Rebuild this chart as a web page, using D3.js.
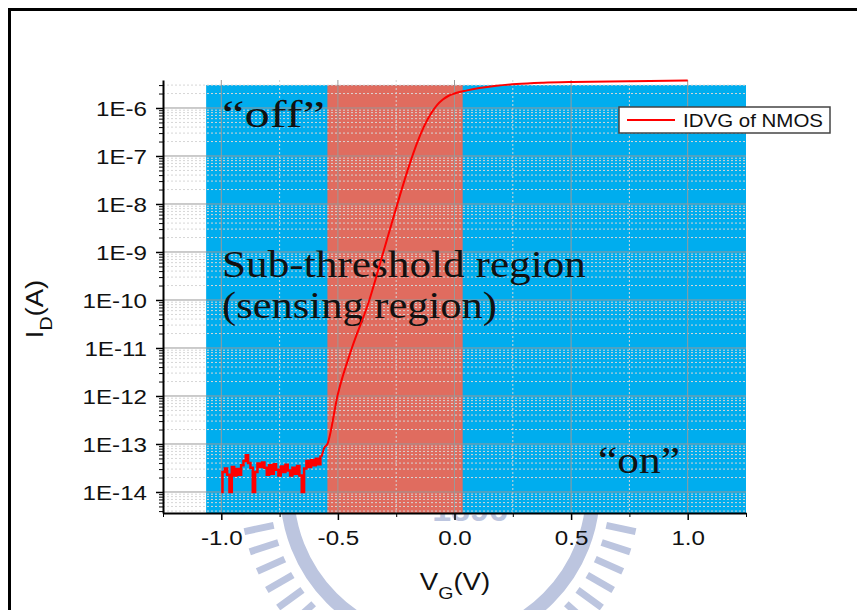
<!DOCTYPE html>
<html>
<head>
<script src="https://cdnjs.cloudflare.com/ajax/libs/d3/7.8.5/d3.min.js"></script>
<style>
  body { margin: 0; background: #fff; }
  .sans { font-family: "Liberation Sans", Arial, sans-serif; }
  .serif { font-family: "Liberation Serif", "Times New Roman", serif; }
</style>
</head>
<body>
<div id="vis"></div>
<script>
var w = 857, h = 610;

// noisy floor of the sweep (V, A)
var vgNoise = [-1.00,-0.99,-0.98,-0.97,-0.96,-0.95,-0.94,-0.93,-0.92,-0.91,-0.90,-0.89,-0.88,-0.87,-0.86,
  -0.85,-0.84,-0.83,-0.82,-0.81,-0.80,-0.79,-0.78,-0.77,-0.76,-0.75,-0.74,-0.73,-0.72,-0.71,
  -0.70,-0.69,-0.68,-0.67,-0.66,-0.65,-0.64,-0.63,-0.62,-0.61,-0.60,-0.59,-0.58,-0.57];
var idNoise = [1.0e-14,2.6e-14,3.1e-14,2.3e-14,1.0e-14,3.3e-14,2.2e-14,3.0e-14,2.3e-14,3.6e-14,4.4e-14,5.8e-14,4.0e-14,3.2e-14,1.0e-14,
  2.6e-14,3.9e-14,3.3e-14,4.1e-14,3.2e-14,2.3e-14,3.6e-14,2.4e-14,3.8e-14,2.9e-14,2.2e-14,3.4e-14,2.6e-14,3.7e-14,2.8e-14,
  2.2e-14,3.2e-14,2.4e-14,3.5e-14,2.2e-14,1.0e-14,3.1e-14,4.4e-14,3.3e-14,4.6e-14,3.6e-14,4.9e-14,3.8e-14,5.4e-14];
// sub-threshold rise and saturation
var vgRise = [-0.56,-0.545,-0.50,-0.44,-0.365,-0.305,-0.245,-0.20,-0.16,-0.13,-0.10,-0.075,-0.05,-0.025,0.0,0.05,0.107,0.18,0.266,0.38,0.506,0.76,1.0];
var idRise = [8.0e-14,1.0e-13,1.1e-12,1.0e-11,1.0e-10,1.0e-9,1.0e-8,5.2e-8,1.9e-7,4.2e-7,7.8e-7,1.15e-6,1.5e-6,1.8e-6,2.0e-6,2.3e-6,2.6e-6,2.9e-6,3.15e-6,3.35e-6,3.48e-6,3.62e-6,3.72e-6];

var xTicks = [-1.0, -0.5, 0.0, 0.5, 1.0];
var xTickLabels = ["-1.0", "-0.5", "0.0", "0.5", "1.0"];
var xMinor = [-1.25, -0.75, -0.25, 0.25, 0.75, 1.25];
var yTicks = [1e-14, 1e-13, 1e-12, 1e-11, 1e-10, 1e-9, 1e-8, 1e-7, 1e-6];
var yTickLabels = ["1E-14", "1E-13", "1E-12", "1E-11", "1E-10", "1E-9", "1E-8", "1E-7", "1E-6"];

var offRegion = [-1.065, 1.25];   // blue band
var subRegion = [-0.545, 0.035];  // red band (sub-threshold)
var regionTop = 3.0e-6;

var svg = d3.select("#vis").append("svg")
  .attr("width", w).attr("height", h)
  .attr("viewBox", [0, 0, w, h]);

var x = d3.scaleLinear().domain([-1.25, 1.25]).range([163, 746]);
var y = d3.scaleLog().domain([3.65e-15, 3.83e-6]).range([513, 80]);

// faint watermark behind the plot
var wm = svg.append("g").attr("fill", "none").attr("stroke", "#bcc5df");
var cx = 440, cy = 490;
wm.append("circle").attr("cx", cx).attr("cy", cy).attr("r", 153).attr("stroke-width", 14);
wm.selectAll("line").data(d3.range(0, 360, 6)).join("line")
  .attr("x1", d => cx + 170 * Math.cos(d * Math.PI / 180))
  .attr("y1", d => cy + 170 * Math.sin(d * Math.PI / 180))
  .attr("x2", d => cx + 200 * Math.cos(d * Math.PI / 180))
  .attr("y2", d => cy + 200 * Math.sin(d * Math.PI / 180))
  .attr("stroke-width", 7);
svg.append("text").attr("class", "sans").attr("x", 470).attr("y", 521)
  .attr("text-anchor", "middle").attr("font-size", 34).attr("font-weight", "bold")
  .attr("fill", "#bcc5df").text("1896");

// frame
svg.append("rect").attr("x", 9.5).attr("y", 9.5).attr("width", 900).attr("height", 700)
  .attr("fill", "none").attr("stroke", "#000").attr("stroke-width", 3);

// region bands
svg.append("rect")
  .attr("x", x(offRegion[0])).attr("y", y(regionTop))
  .attr("width", x(offRegion[1]) - x(offRegion[0]))
  .attr("height", y.range()[0] - y(regionTop))
  .attr("fill", "#00adee");
svg.append("rect")
  .attr("x", x(subRegion[0])).attr("y", y(regionTop))
  .attr("width", x(subRegion[1]) - x(subRegion[0]))
  .attr("height", y.range()[0] - y(regionTop))
  .attr("fill", "#e06c5f");

// minor y values
var yMinor = [];
yTicks.concat([1e-15]).forEach(d => {
  for (var k = 2; k <= 9; k++) {
    var v = d * k;
    if (v > y.domain()[0] && v < y.domain()[1]) yMinor.push(v);
  }
});

var grid = svg.append("g");
grid.selectAll(".ym").data(yMinor).join("line")
  .attr("x1", x.range()[0]).attr("x2", x.range()[1])
  .attr("y1", d => y(d)).attr("y2", d => y(d))
  .attr("stroke", "#d6d6d6").attr("stroke-dasharray", "2,2");
grid.selectAll(".xm").data(xMinor.slice(1, -1)).join("line")
  .attr("x1", d => x(d)).attr("x2", d => x(d))
  .attr("y1", y.range()[1]).attr("y2", y.range()[0])
  .attr("stroke", "#d6d6d6").attr("stroke-dasharray", "2,2");
grid.selectAll(".yM").data(yTicks).join("line")
  .attr("x1", x.range()[0]).attr("x2", x.range()[1])
  .attr("y1", d => y(d)).attr("y2", d => y(d))
  .attr("stroke", "#999");
grid.selectAll(".xM").data(xTicks).join("line")
  .attr("x1", d => x(d)).attr("x2", d => x(d))
  .attr("y1", y.range()[1]).attr("y2", y.range()[0])
  .attr("stroke", "#999");

// annotations
var notes = svg.append("g").attr("class", "serif").attr("fill", "#111").attr("font-size", 37);
notes.append("text").attr("x", 222).attr("y", 127).attr("textLength", 103).attr("lengthAdjust", "spacingAndGlyphs").text("\u201Coff\u201D");
notes.append("text").attr("x", 222).attr("y", 277).attr("textLength", 364).attr("lengthAdjust", "spacingAndGlyphs").text("Sub-threshold region");
notes.append("text").attr("x", 222).attr("y", 318).attr("textLength", 275).attr("lengthAdjust", "spacingAndGlyphs").text("(sensing region)");
notes.append("text").attr("x", 598).attr("y", 473).attr("textLength", 82).attr("lengthAdjust", "spacingAndGlyphs").text("\u201Con\u201D");

// curve
var line = d3.line().x(d => x(d[0])).y(d => y(d[1]));
var noise = vgNoise.map((v, i) => [v, idNoise[i]]);
var rise = [noise[noise.length - 1]].concat(vgRise.map((v, i) => [v, idRise[i]]));
svg.append("path").datum(noise).attr("d", line.curve(d3.curveStep))
  .attr("fill", "none").attr("stroke", "#ff0000").attr("stroke-width", 2.5);
svg.append("path").datum(rise).attr("d", line.curve(d3.curveMonotoneX))
  .attr("fill", "none").attr("stroke", "#ff0000").attr("stroke-width", 2);

// axes
var yAxis = svg.append("g").attr("class", "sans").attr("transform", "translate(" + x.range()[0] + ",0)")
  .call(d3.axisLeft(y).tickValues(yTicks).tickFormat((d, i) => yTickLabels[i]).tickSize(7).tickSizeOuter(0));
svg.append("g").attr("transform", "translate(" + x.range()[0] + ",0)")
  .call(d3.axisLeft(y).tickValues(yMinor).tickFormat("").tickSize(4).tickSizeOuter(0))
  .call(g => g.select(".domain").remove());
yAxis.select(".domain").attr("stroke-width", 2);
yAxis.selectAll(".tick line").attr("stroke-width", 1.5);
yAxis.selectAll(".tick text").attr("x", null).attr("dy", "0.36em").attr("font-size", 21).attr("fill", "#111")
  .attr("transform", "translate(-16,0) scale(1.15,1)");

var xAxis = svg.append("g").attr("class", "sans").attr("transform", "translate(0," + y.range()[0] + ")")
  .call(d3.axisBottom(x).tickValues(xTicks).tickFormat((d, i) => xTickLabels[i]).tickSize(7).tickSizeOuter(0));
svg.append("g").attr("transform", "translate(0," + y.range()[0] + ")")
  .call(d3.axisBottom(x).tickValues(xMinor).tickFormat("").tickSize(4).tickSizeOuter(0))
  .call(g => g.select(".domain").remove());
xAxis.select(".domain").attr("stroke-width", 2);
xAxis.selectAll(".tick line").attr("stroke-width", 1.5);
xAxis.selectAll(".tick text").attr("y", null).attr("dy", null).attr("font-size", 21).attr("fill", "#111")
  .attr("transform", "translate(0,32) scale(1.15,1)");

// axis titles
var yt = svg.append("text").attr("class", "sans").attr("font-size", 24).attr("fill", "#111")
  .attr("text-anchor", "middle").attr("transform", "translate(43,309) rotate(-90) scale(1.15,1)");
yt.append("tspan").text("I");
yt.append("tspan").attr("font-size", 17).attr("dy", 9).text("D");
yt.append("tspan").attr("dy", -9).text("(A)");

var xt = svg.append("text").attr("class", "sans").attr("font-size", 24).attr("fill", "#111")
  .attr("text-anchor", "middle").attr("transform", "translate(455,590) scale(1.15,1)");
xt.append("tspan").text("V");
xt.append("tspan").attr("font-size", 17).attr("dy", 9).text("G");
xt.append("tspan").attr("dy", -9).text("(V)");

// legend
var lg = svg.append("g").attr("transform", "translate(619,107)");
lg.append("rect").attr("width", 211).attr("height", 26).attr("fill", "#fff").attr("stroke", "#444").attr("stroke-width", 1.5);
lg.append("line").attr("x1", 8).attr("x2", 56).attr("y1", 13).attr("y2", 13).attr("stroke", "#ff0000").attr("stroke-width", 2);
lg.append("text").attr("class", "sans").attr("x", 64).attr("y", 20).attr("font-size", 19).attr("fill", "#111")
  .attr("textLength", 140).attr("lengthAdjust", "spacingAndGlyphs").text("IDVG of NMOS");
</script>
</body>
</html>
